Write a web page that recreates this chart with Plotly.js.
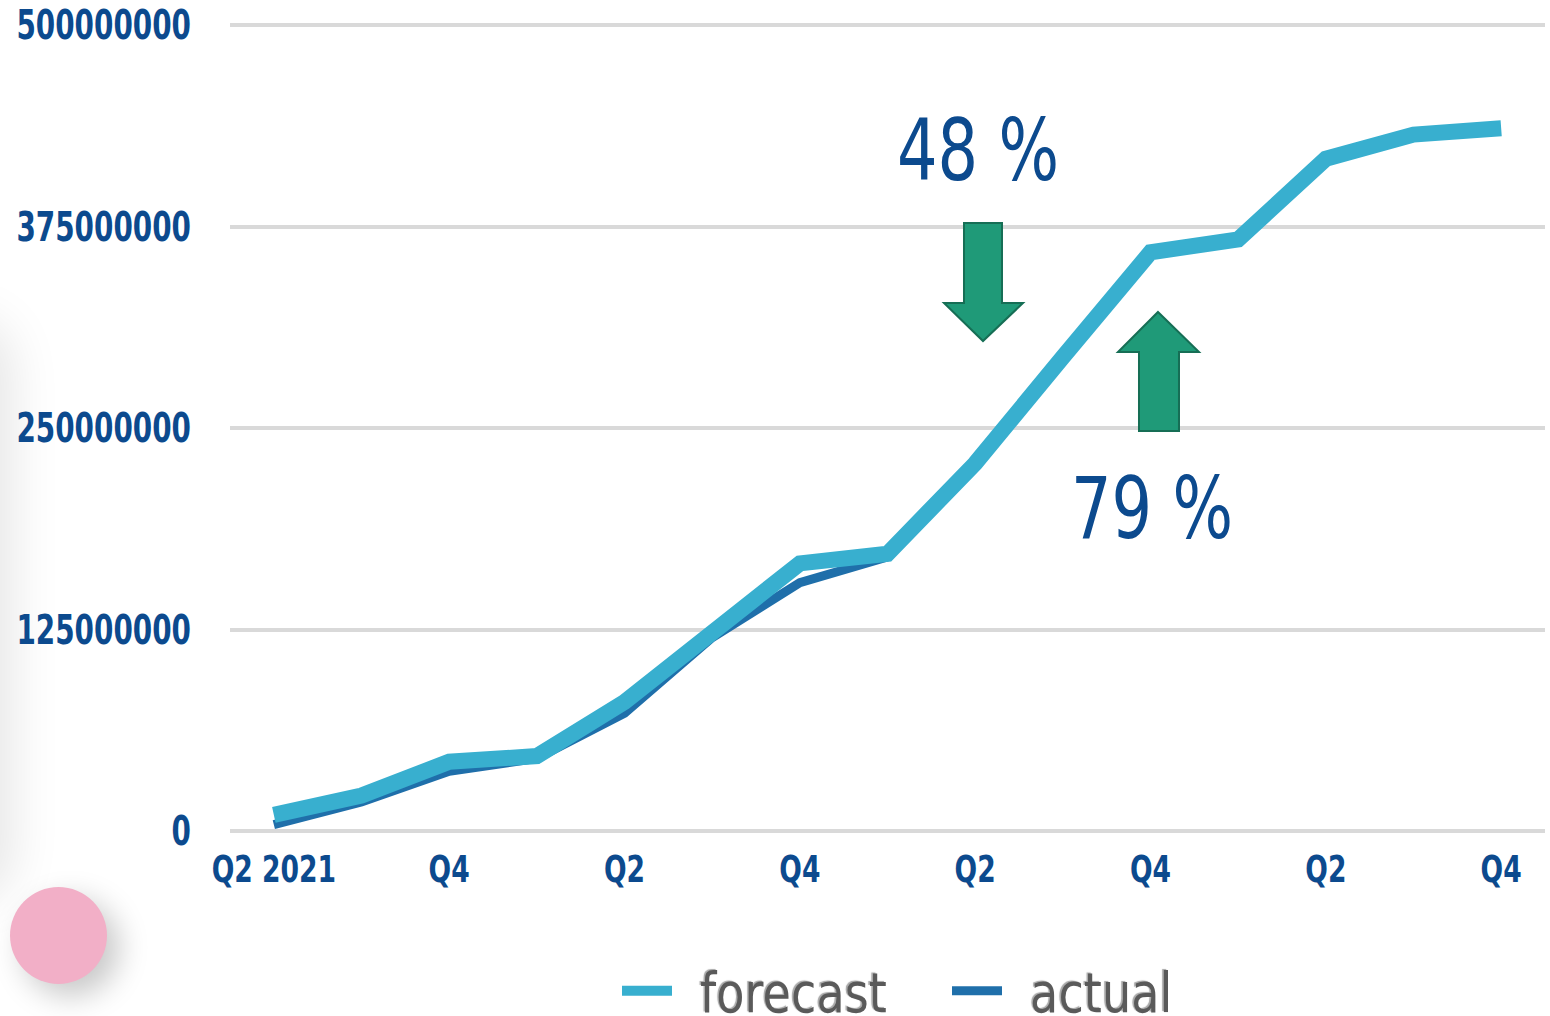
<!DOCTYPE html>
<html><head><meta charset="utf-8">
<script src="https://cdn.plot.ly/plotly-3.0.1.min.js"></script>
<style>
html,body{margin:0;padding:0;background:#fff;overflow:hidden;width:1550px;height:1016px}
#chart{width:1550px;height:1016px;position:absolute;left:0;top:0}
#edge{position:absolute;left:-70px;top:330px;width:70px;height:560px;box-shadow:0 0 50px 12px rgba(0,0,0,0.10);border-radius:35px}
#dot{position:absolute;left:10px;top:887px;width:97px;height:97px;border-radius:50%;background:#F2AFC7;box-shadow:12px 12px 30px rgba(0,0,0,0.22)}
</style></head><body>
<div id="edge"></div>
<div id="chart"></div>
<div id="dot"></div>
<script>
// ---- data ----
const quarters = ["2021 Q2","2021 Q3","2021 Q4","2022 Q1","2022 Q2","2022 Q3","2022 Q4","2023 Q1","2023 Q2","2023 Q3","2023 Q4","2024 Q1","2024 Q2","2024 Q3","2024 Q4"];
const tickQuarters = ["2021 Q2","2021 Q4","2022 Q2","2022 Q4","2023 Q2","2023 Q4","2024 Q2","2024 Q4"];
const tickLabels = ["Q2 2021","Q4","Q2","Q4","Q2","Q4","Q2","Q4"];
const forecast = [10e6,22e6,43e6,46.5e6,80e6,123e6,166e6,172e6,228e6,294e6,359e6,367e6,417e6,432e6,436e6];
const actualQuarters = ["2021 Q2","2021 Q3","2021 Q4","2022 Q1","2022 Q2","2022 Q3","2022 Q4","2023 Q1"];
const actual = [4e6,18e6,37e6,45e6,73e6,120e6,154e6,170e6];
const yTicks = [0,125e6,250e6,375e6,500e6];
const seriesNames = ["forecast","actual"];
const callouts = ["48 %","79 %"];

// ---- layout helpers (pixel -> paper) ----
const L = 230, R = 5, T = 20, B = 185, W = 1550, H = 1016;
const pw = W - L - R, ph = H - T - B;
const px = p => (p - L) / pw;
const py = p => (H - B - p) / ph;
const poly = pts => 'M' + pts.map(([a,b]) => px(a).toFixed(5) + ',' + py(b).toFixed(5)).join(' L') + ' Z';
// small headroom so the top (500000000) gridline is not clipped at the plot edge
const yMax = yTicks[yTicks.length - 1] * ph / (ph - 5);

const blueText = '#0C4A8E';
const arrowFill = '#1F9A78', arrowLine = '#166E55';

const data = [
  {x: actualQuarters, y: actual, name: '\u2002' + seriesNames[1], type: 'scatter', mode: 'lines',
   line: {color: '#1F6FAA', width: 9}},
  {x: quarters, y: forecast, name: '\u2002' + seriesNames[0], type: 'scatter', mode: 'lines',
   line: {color: '#38AFCF', width: 16}}
];

const layout = {
  width: W, height: H,
  margin: {l: L, r: R, t: T, b: B, autoexpand: false},
  paper_bgcolor: 'rgba(0,0,0,0)', plot_bgcolor: 'rgba(0,0,0,0)',
  showlegend: true,
  legend: {orientation: 'h', traceorder: 'reversed', x: px(617), xanchor: 'left', y: py(991), yanchor: 'middle',
    entrywidth: 265, entrywidthmode: 'pixels', itemwidth: 50,
    font: {family: 'DejaVu Sans', size: 55, color: '#5A5A5A', shadow: '-2px -1px 1px #A8A8A8'}},
  xaxis: {type: 'category', categoryorder: 'array', categoryarray: quarters, range: [-0.5, 14.5],
    tickmode: 'array', tickvals: tickQuarters, ticktext: tickLabels,
    showgrid: false, showline: false, zeroline: false, ticks: '', ticklabelstandoff: 12,
    tickfont: {family: 'DejaVu Sans', weight: 'bold', size: 38, color: blueText}, fixedrange: true},
  yaxis: {range: [0, yMax], tickmode: 'array', tickvals: yTicks, tickformat: 'd',
    showgrid: true, gridcolor: '#D9D9D9', gridwidth: 4, zeroline: true, zerolinecolor: '#D9D9D9', zerolinewidth: 4,
    showline: false, ticks: '', ticklabelstandoff: 38,
    tickfont: {family: 'DejaVu Sans', weight: 'bold', size: 41, color: blueText}, fixedrange: true},
  shapes: [
    {type: 'path', xref: 'paper', yref: 'paper', fillcolor: arrowFill, line: {color: arrowLine, width: 2},
     path: poly([[964,223],[1002,223],[1002,303],[1023,303],[983,341],[944,303],[964,303]])},
    {type: 'path', xref: 'paper', yref: 'paper', fillcolor: arrowFill, line: {color: arrowLine, width: 2},
     path: poly([[1158,312],[1199,352],[1179,352],[1179,431],[1139,431],[1139,352],[1118,352]])}
  ],
  annotations: [
    {text: callouts[0], xref: 'paper', yref: 'paper', x: px(978), y: py(150), xanchor: 'center', yanchor: 'middle',
     showarrow: false, font: {family: 'DejaVu Sans', size: 85, color: blueText}},
    {text: callouts[1], xref: 'paper', yref: 'paper', x: px(1152), y: py(508), xanchor: 'center', yanchor: 'middle',
     showarrow: false, font: {family: 'DejaVu Sans', size: 85, color: blueText}}
  ]
};

Plotly.newPlot('chart', data, layout, {staticPlot: true, displayModeBar: false}).then(gd => {
  const squeeze = (sel, f) => gd.querySelectorAll(sel).forEach(t => {
    const w = t.getComputedTextLength();
    if (w > 0) {
      t.setAttribute('textLength', (w * f).toFixed(1));
      t.setAttribute('lengthAdjust', 'spacingAndGlyphs');
    }
  });
  squeeze('.ytick text', 0.68);
  squeeze('.xtick text', 0.70);
  squeeze('.annotation-text', 0.75);
  squeeze('.legendtext', 0.84);
});
</script>
</body></html>
